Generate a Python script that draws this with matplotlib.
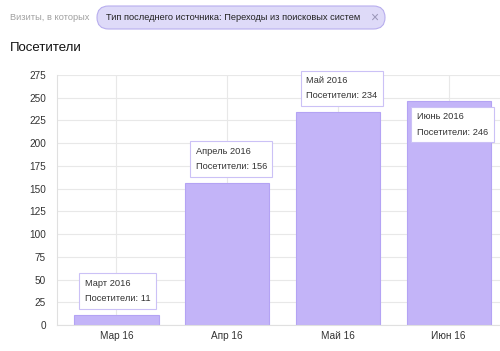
import matplotlib
matplotlib.use('Agg')

import matplotlib.pyplot as plt
import numpy as np
from matplotlib.patches import FancyBboxPatch
from matplotlib.transforms import IdentityTransform

months = ['Мар 16', 'Апр 16', 'Май 16', 'Июн 16']
tooltip_months = ['Март 2016', 'Апрель 2016', 'Май 2016', 'Июнь 2016']
visitors = [11, 156, 234, 246]
yticks = np.arange(0, 276, 25)

plt.rcParams['font.family'] = ['Liberation Sans', 'DejaVu Sans']

W, H = 500, 351
fig = plt.figure(figsize=(W / 100, H / 100), dpi=100)


def px(x, y):
    """pixel (from top-left) -> figure fraction"""
    return x / W, 1 - y / H


# header: filter chip and title
fig.text(*px(10, 17), 'Визиты, в которых', fontsize=6.7, color='#a0a0a0', va='center')
chip = FancyBboxPatch((97, H - 29), 288, 23, boxstyle='round,pad=0,rounding_size=11.5',
                      transform=IdentityTransform(), facecolor='#dedaf8', edgecolor='#b8aeee',
                      linewidth=0.8)
fig.patches.append(chip)
fig.text(*px(106, 17.5), 'Тип последнего источника: Переходы из поисковых систем',
         fontsize=6.7, color='#222222', va='center')
fig.text(*px(374, 17.5), '×', fontsize=10, color='#9a96b8', va='center', ha='center')
fig.text(*px(10, 48), 'Посетители', fontsize=9.5, color='#111111', va='center')

ax = fig.add_axes([57 / W, (H - 325) / H, (W - 57) / W, 250 / H])

x = np.arange(len(months))
width = 0.76
ax.bar(x, visitors, width=width, color='#c3b4f8', edgecolor='#b4a3f4', linewidth=0.8, zorder=2)

ax.set_xlim(-0.537, 3.464)
ax.set_ylim(0, 275)
ax.set_yticks(yticks)
ax.set_xticks(x)
ax.set_xticklabels(months)
ax.tick_params(length=0, labelsize=7.2, colors='#333333')
ax.tick_params(axis='y', pad=8)
ax.tick_params(axis='x', pad=4.5)
ax.grid(True, color='#e8e8e8', linewidth=0.8, zorder=0)
ax.set_axisbelow(True)
for side in ['top', 'right']:
    ax.spines[side].set_visible(False)
for side in ['left', 'bottom']:
    ax.spines[side].set_color('#e0e0e0')

# tooltips
for i, (m, v) in enumerate(zip(tooltip_months, visitors)):
    inside = i == len(visitors) - 1
    ax.annotate(f'{m}\nПосетители: {v}',
                xy=(i - width / 2, v), xytext=(7.5, -8 if inside else 8.5),
                textcoords='offset points', va='top' if inside else 'bottom', ha='left',
                fontsize=6.7, color='#333333', linespacing=1.9, zorder=5,
                bbox=dict(boxstyle='square,pad=0.6', facecolor='white',
                          edgecolor='#cbc1f6', linewidth=0.8))

fig.savefig('out.png', dpi=100)
